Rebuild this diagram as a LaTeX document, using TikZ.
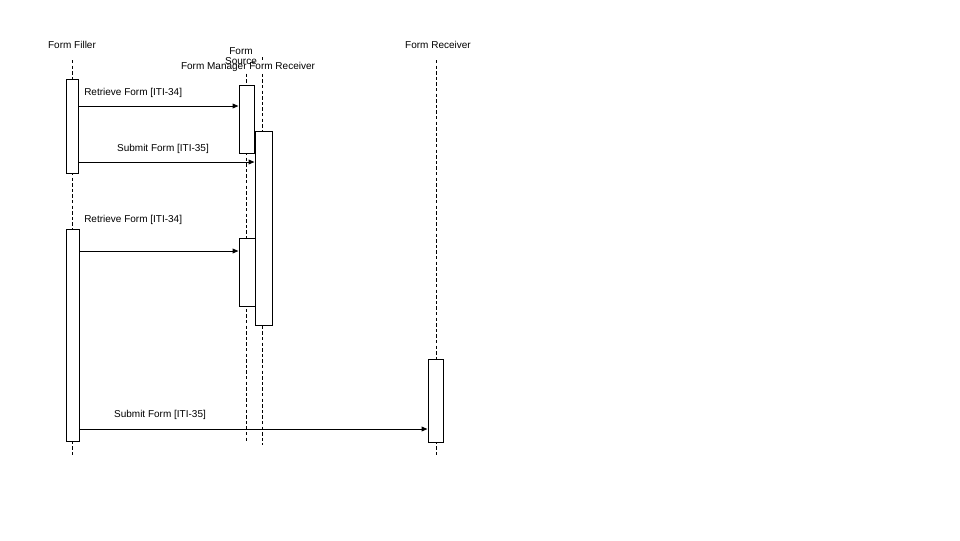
\documentclass[tikz,border=0pt]{standalone}
\usepackage{fontspec}
\setmainfont{Liberation Sans}
\usetikzlibrary{arrows.meta}
\tikzset{
  >={Triangle[length=4.5pt,width=3.6pt]},
  actor/.style={font=\fontsize{7.5}{7.6}\selectfont,inner sep=0pt,align=center},
  lbl/.style={font=\fontsize{7.5}{8.2}\selectfont,inner sep=0pt},
  lifeline/.style={line width=0.75pt,dash pattern=on 2.6pt off 1.6pt},
  act/.style={draw,fill=white,line width=0.75pt,inner sep=0pt,minimum width=#1*0.75pt},
  act/.default=15,
  msg/.style={->,line width=0.75pt},
}

\begin{document}
\begin{tikzpicture}[x=0.75pt,y=-0.75pt]
  \useasboundingbox (0,0) rectangle (960,540);
  % lifelines
  \foreach \n/\x/\ya/\yb in {filler/72/60/455,source/246/68/443,
                             manager/262/57/445,receiver/436/60/455}
  {
    \coordinate (\n top) at (\x,\ya);
    \coordinate (\n bot) at (\x,\yb);
    \draw[lifeline] (\n top) -- (\n bot);
  }
  % participants
  \node[actor] (filler) at (72,45) {Form Filler};
  \node[actor,fill=white,inner ysep=0.5pt] (manager) at (248,67) {Form Manager Form Receiver};
  \node[actor] (source) at (241,56) {Form\\Source};
  \node[actor] (receiver) at (438,45) {Form Receiver};
  % activations
  \foreach \n/\w/\x/\ya/\yb in {f1/12/72/79/173,f2/13/72.5/229/441,
                                s1/15/246.5/85/153,m1/17/263.5/131/325,
                                s2/16/247/238/306,r1/15/435.5/359/442}
    \node[act=\w,minimum height={(\yb-\ya)*0.75pt}] (\n) at (\x,{(\ya+\yb)/2}) {};
  % messages
  \draw[msg] (f1.east |- 0,106) -- (s1.west |- 0,106);
  \node[lbl,anchor=west] (m1lbl) at (84,93) {Retrieve Form [ITI-34]};
  \draw[msg] (f1.east |- 0,162) -- (m1.west |- 0,162);
  \node[lbl] (m2lbl) at (163,149) {Submit Form [ITI-35]};
  \draw[msg] (f2.east |- 0,251) -- (s2.west |- 0,251);
  \node[lbl,anchor=west] (m3lbl) at (84,220) {Retrieve Form [ITI-34]};
  \draw[msg] (f2.east |- 0,429) -- (r1.west |- 0,429);
  \node[lbl] (m4lbl) at (160,415) {Submit Form [ITI-35]};
\end{tikzpicture}
\end{document}
